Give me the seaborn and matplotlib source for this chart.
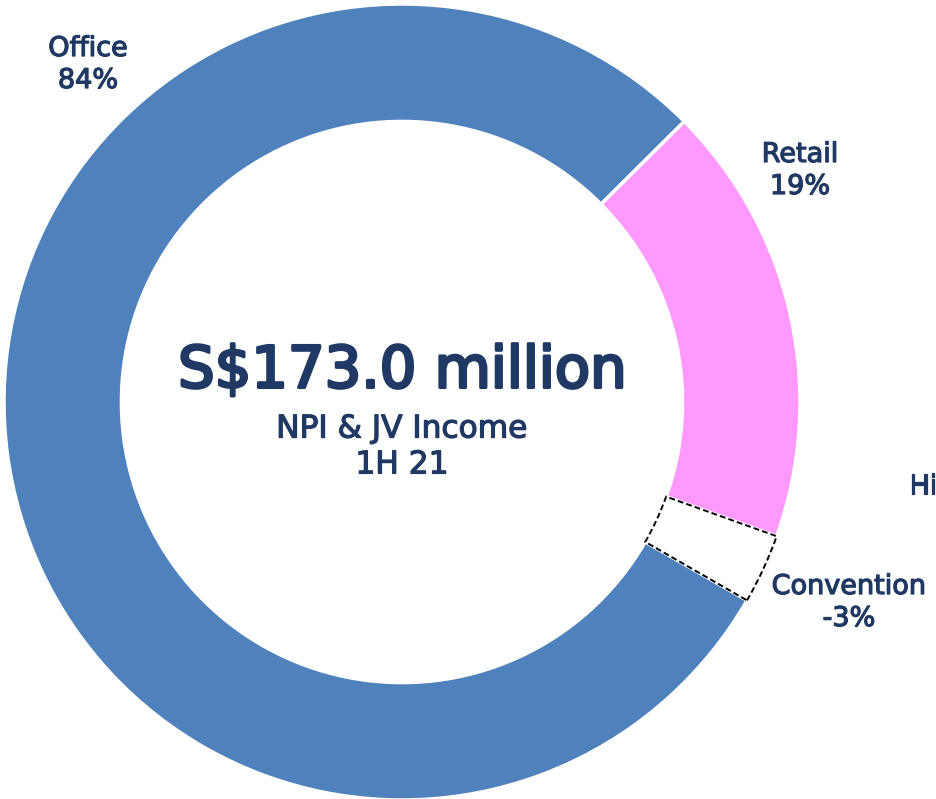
import numpy as np
import matplotlib
matplotlib.use("Agg")
import matplotlib.pyplot as plt
import matplotlib.patheffects as pe
import seaborn as sns

# segment data (1H 21 NPI & JV income contribution)
segments = ["Office", "Retail", "Convention"]
shares = [84, 19, -3]
colors = ["#4F81BD", "#FF99FF", "#FFFFFF"]

TEXT_COLOR = "#1F3864"
FIG_W, FIG_H = 936, 799
CX, CY, R = 402, 402, 398  # donut centre / radius in pixels

sns.set_theme(style="white")
plt.rcParams["font.family"] = ["DejaVu Sans"]


def heavy(lw):
    # thicken regular glyphs a little (reference uses a medium weight)
    return [pe.withStroke(linewidth=lw, foreground=TEXT_COLOR)]


fig = plt.figure(figsize=(FIG_W / 100, FIG_H / 100), dpi=100)
ax = fig.add_axes([0, 0, 1, 1])

wedges, _ = ax.pie(
    np.abs(shares), colors=colors, startangle=-29.9, counterclock=False,
    radius=1.0, wedgeprops=dict(width=0.295, edgecolor="white", linewidth=2.5),
)
# negative segment drawn as dashed outline
neg = wedges[2]
neg.set_edgecolor("black")
neg.set_linestyle((0, (3, 1.6)))
neg.set_linewidth(1.4)
neg.set_zorder(3)

ax.set_aspect("auto")
ax.set_xlim(-CX / R, (FIG_W - CX) / R)
ax.set_ylim(-(FIG_H - CY) / R, CY / R)
ax.axis("off")


def px(x, y):
    return (x - CX) / R, (CY - y) / R


label_pos = {"Office": (88, 65), "Retail": (800, 171), "Convention": (849, 603)}
for name, val in zip(segments, shares):
    x, y = px(*label_pos[name])
    ax.text(x, y, f"{name}\n{val}%", ha="center", va="center", fontsize=19.5,
            color=TEXT_COLOR, linespacing=1.3, path_effects=heavy(0.9))

# clipped label at the right edge
x, y = px(909, 487)
ax.text(x, y, "Hi", ha="left", va="center", fontsize=19.5,
        color=TEXT_COLOR, clip_on=False, path_effects=heavy(0.9))

# centre text
ax.text(0, px(0, 371)[1], "S$173.0 million", ha="center", va="center",
        fontsize=41.5, color=TEXT_COLOR, path_effects=heavy(2.2))
ax.text(0, px(0, 447)[1], "NPI & JV Income\n1H 21", ha="center", va="center",
        fontsize=22.5, color=TEXT_COLOR, linespacing=1.3, path_effects=heavy(0.9))

fig.savefig("out.png", dpi=100)
